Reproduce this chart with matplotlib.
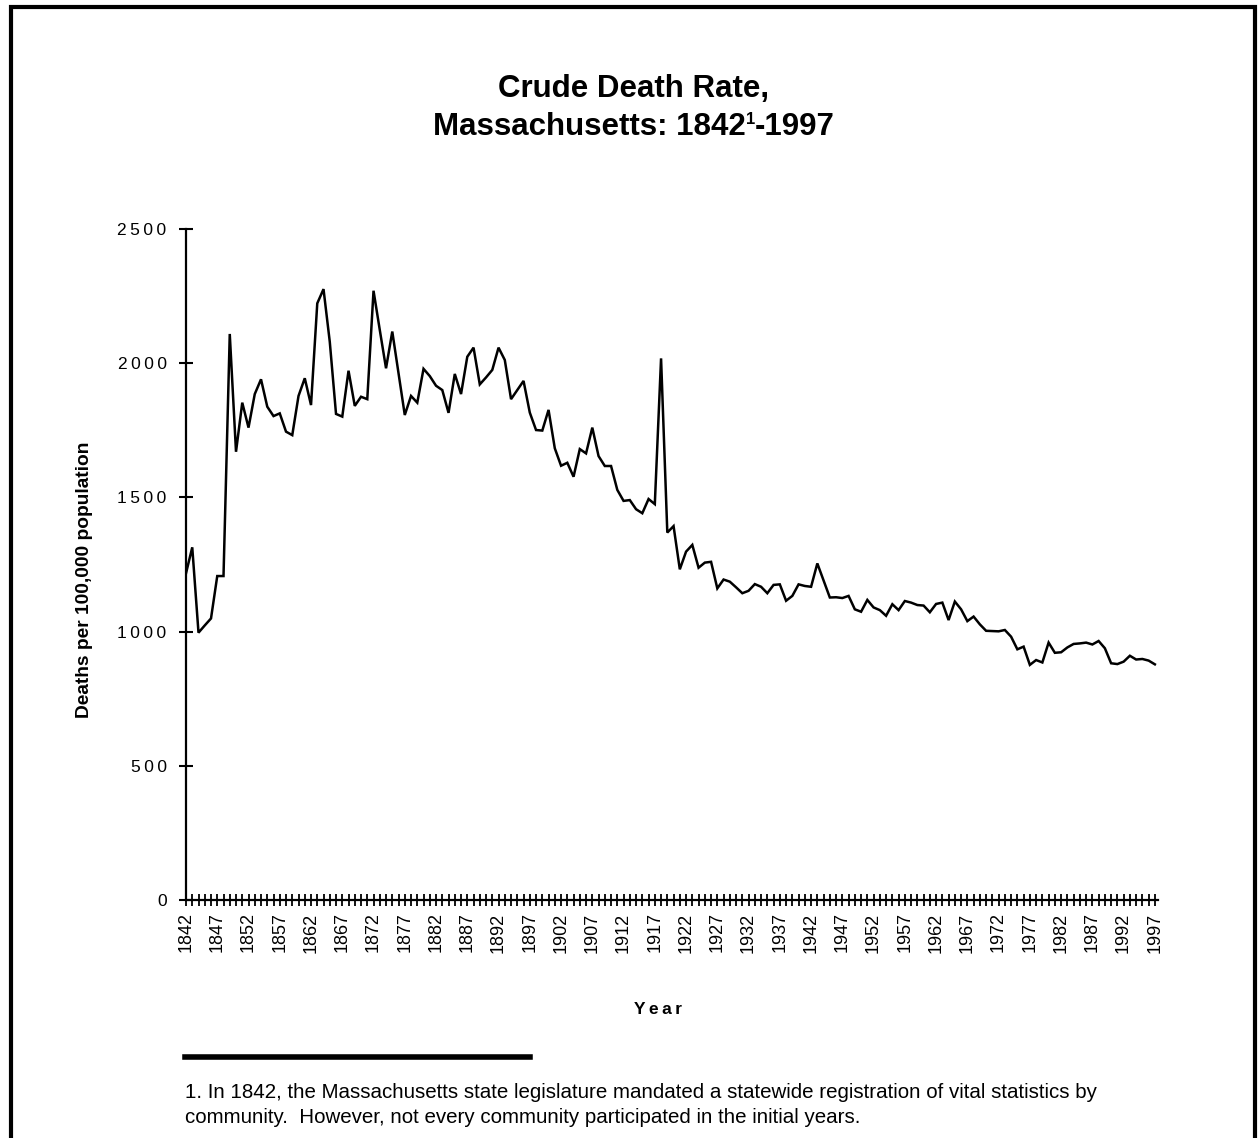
import matplotlib.pyplot as plt
from matplotlib.lines import Line2D

plt.rcParams['font.family'] = ['Liberation Sans', 'DejaVu Sans']

# crude death rate per 100,000, Massachusetts
years = list(range(1842, 1998))
rate = [
    1217, 1314, 996, 1023, 1049, 1207, 1207, 2109,                     # 1842-1849
    1670, 1853, 1760, 1885, 1940, 1838, 1803, 1813, 1745, 1732,        # 1850s
    1878, 1944, 1844, 2223, 2276, 2080, 1811, 1801, 1972, 1841,        # 1860s
    1875, 1866, 2270, 2124, 1981, 2118, 1962, 1807, 1878, 1853,        # 1870s
    1979, 1952, 1916, 1900, 1815, 1960, 1885, 2024, 2058, 1921,        # 1880s
    1947, 1975, 2058, 2012, 1866, 1900, 1934, 1816, 1751, 1749,        # 1890s
    1826, 1683, 1618, 1629, 1577, 1680, 1664, 1760, 1654, 1617,        # 1900s
    1617, 1528, 1487, 1490, 1456, 1441, 1494, 1475, 2018, 1369,        # 1910s
    1393, 1232, 1298, 1323, 1238, 1257, 1260, 1161, 1194, 1186,        # 1920s
    1165, 1143, 1152, 1177, 1167, 1143, 1174, 1176, 1115, 1133,        # 1930s
    1176, 1170, 1167, 1254, 1190, 1127, 1128, 1125, 1133, 1083,        # 1940s
    1074, 1118, 1090, 1080, 1059, 1102, 1080, 1114, 1108, 1099,        # 1950s
    1097, 1072, 1103, 1108, 1043, 1112, 1083, 1039, 1056, 1027,        # 1960s
    1003, 1002, 1001, 1006, 981, 934, 944, 876, 894, 885,              # 1970s
    959, 921, 923, 941, 954, 956, 959, 952, 965, 938,                  # 1980s
    882, 879, 888, 910, 896, 898, 892, 878,                            # 1990-1997
]
yticks = [0, 500, 1000, 1500, 2000, 2500]

W, H = 1259, 1138


def fx(px):
    return px / W


def fy(py):
    return 1 - py / H


def spaced(s):
    return '\u2009'.join(s)


fig = plt.figure(figsize=(W / 100, H / 100), dpi=100)
ax = fig.add_axes([fx(186), fy(900), fx(1158) - fx(186), fy(229) - fy(900)])

ax.plot(years, rate, color='black', lw=1.8, solid_joinstyle='miter')
ax.set_xlim(1842, 1997.5)
ax.set_ylim(0, 2500)

for side in ['top', 'right']:
    ax.spines[side].set_visible(False)
for side in ['left', 'bottom']:
    ax.spines[side].set_linewidth(1.6)

ax.set_xticks(years)
ax.set_xticklabels([str(y) if (y - 1842) % 5 == 0 else '' for y in years])
ax.set_yticks(yticks)
ax.set_yticklabels([spaced(str(v)) for v in yticks])
ax.tick_params(axis='x', direction='inout', length=8, width=1.3, pad=5,
               labelsize=13, labelrotation=90)
ax.tick_params(axis='y', direction='inout', length=10, width=1.5, pad=9,
               labelsize=12.5)

# axis titles
fig.text(fx(85), fy(580), 'Deaths per 100,000 population', rotation=90,
         ha='center', va='center', fontsize=13.8, weight='bold')
fig.text(fx(658), fy(1010), spaced('Year'), ha='center', va='center',
         fontsize=12.5, weight='bold')

# title, second line built from pieces so the footnote mark is a small superscript
fig.text(fx(634), fy(97), 'Crude Death Rate,', ha='center', va='baseline',
         fontsize=22.5, weight='bold')
renderer = fig.canvas.get_renderer()
pieces = [('Massachusetts: 1842', 22.5, 0), ('1', 12, 11), ('-1997', 22.5, 0)]
texts = []
for s, size, rise in pieces:
    t = fig.text(0, fy(135 - rise), s, ha='left', va='baseline',
                 fontsize=size, weight='bold')
    texts.append(t)
widths = [t.get_window_extent(renderer).width for t in texts]
x = 634 - sum(widths) / 2
for t, w in zip(texts, widths):
    t.set_x(fx(x))
    x += w

# footnote
fig.add_artist(Line2D([fx(185), fx(530)], [fy(1057), fy(1057)],
                      transform=fig.transFigure, color='black', lw=4))
fig.text(fx(185), fy(1098),
         '1. In 1842, the Massachusetts state legislature mandated a statewide '
         'registration of vital statistics by',
         ha='left', va='baseline', fontsize=14.8)
fig.text(fx(185), fy(1123),
         'community.  However, not every community participated in the initial years.',
         ha='left', va='baseline', fontsize=14.8)

# page frame
fig.add_artist(Line2D([fx(11), fx(11), fx(1255), fx(1255)],
                      [fy(1140), fy(7), fy(7), fy(1140)],
                      transform=fig.transFigure, color='black', lw=3,
                      solid_joinstyle='miter'))

fig.savefig('out.png', dpi=100)
